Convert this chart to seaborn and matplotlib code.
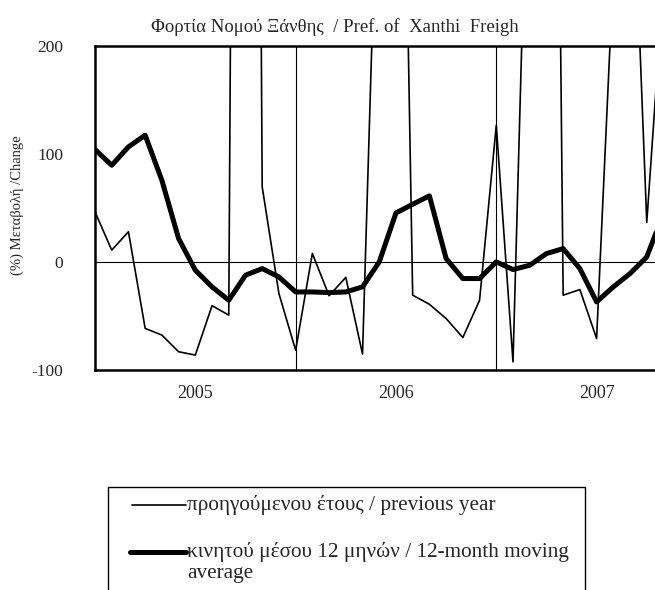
import pandas as pd
import matplotlib
matplotlib.use("Agg")
import matplotlib.pyplot as plt
from matplotlib.patches import Rectangle
from matplotlib.lines import Line2D
import seaborn as sns

# monthly index, Jan 2005 onwards
months = list(range(35))

# % change vs previous year (values far above 200 are clipped by the axis)
prev_year = [46.3, 10.9, 27.9, -61.5, -67.7, -83.1, -86.2, -40.5, -49.2, 2500,
             69.4, -29.3, -81.7, 7.8, -31.3, -14.3, -85.3, 430, 850, -30.8,
             -39.2, -52.4, -70.0, -35.5, 126.4, -92.5, 470, 1500, -30.8, -25.6,
             -70.9, 268, 435, 36.5, 260]

# 12-month moving average
moving_avg = [104, 89.4, 106.4, 117.2, 75.5, 21.6, -7.7, -23.1, -35.5, -12.3,
              -6.2, -13.9, -27.8, -27.8, -28.4, -27.8, -23.1, 0, 45.3, 53.3,
              61.1, 3.1, -15.4, -15.4, 0, -7.1, -3.1, 7.7, 12.3, -6.2,
              -37, -23.1, -10.8, 4.6, 45]

year_labels = ["2005", "2006", "2007"]
year_label_pos = [6, 18, 30]
year_breaks = [12, 24]
y_ticks = [-100, 0, 100, 200]

label_prev = "προηγούμενου έτους / previous year"
label_ma = "κινητού μέσου 12 μηνών / 12-month moving\naverage"

sns.set_style("white")
plt.rcParams['font.family'] = ['Liberation Serif', 'DejaVu Serif']
plt.rcParams['axes.unicode_minus'] = False

df = pd.DataFrame({"month": months, "prev": prev_year, "ma": moving_avg})

W, H = 655, 590
fig = plt.figure(figsize=(W / 100, H / 100), dpi=100)
# plot area runs off the right edge of the picture, like the original
ax = fig.add_axes([95 / W, 1 - 370 / H, (700 - 95) / W, (370 - 45.7) / H])

sns.lineplot(data=df, x="month", y="prev", ax=ax, color="black", lw=1.2)
sns.lineplot(data=df, x="month", y="ma", ax=ax, color="black", lw=3.6)

ax.axhline(0, color="black", lw=0.8, zorder=1)
for b in year_breaks:
    ax.axvline(b, color="black", lw=0.8, zorder=1)

ax.set_xlim(0, (700 - 95) / 16.72)
ax.set_ylim(-100, 200)
ax.set_yticks(y_ticks)
ax.set_xticks(year_label_pos)
ax.set_xticklabels(year_labels)
ax.set_xlabel("")
ax.set_ylabel("")
ax.tick_params(axis="y", length=0, pad=23, labelsize=12.5)
ax.tick_params(axis="x", length=0, pad=11, labelsize=13)
for s in ax.spines.values():
    s.set_visible(True)
    s.set_color("black")
    s.set_linewidth(1.8)

fig.text(335 / W, 1 - 27 / H, "Φορτία Νομού Ξάνθης  / Pref. of  Xanthi  Freigh",
         ha="center", va="center", fontsize=13.5)
fig.text(17 / W, 1 - 205 / H, "(%) Μεταβολή /Change", rotation=90,
         ha="center", va="center", fontsize=10.5)

# legend box (cut off at the bottom like the reference)
fig.add_artist(Rectangle((108 / W, -0.05), (585 - 108) / W, 0.05 + 1 - 487 / H,
                         transform=fig.transFigure, fill=False, ec="black", lw=1.0))
fig.add_artist(Line2D([132 / W, 186 / W], [1 - 505 / H] * 2, transform=fig.transFigure,
                      color="black", lw=1.2))
fig.add_artist(Line2D([130 / W, 186 / W], [1 - 552 / H] * 2, transform=fig.transFigure,
                      color="black", lw=3.6, solid_capstyle="round"))
fig.text(187 / W, 1 - 505 / H, label_prev, ha="left", va="center", fontsize=15.3)
fig.text(187 / W, 1 - 542 / H, label_ma, ha="left", va="top", fontsize=15.3,
         linespacing=1.15)

fig.savefig("out.png", dpi=100)
